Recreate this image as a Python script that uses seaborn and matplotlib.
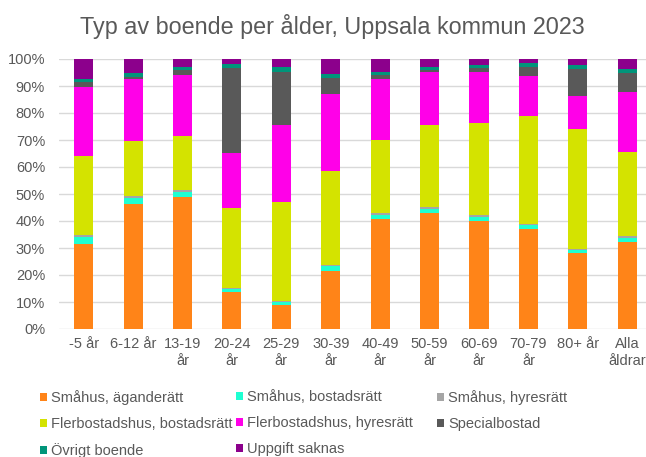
import numpy as np
import pandas as pd
import seaborn as sns
import matplotlib.pyplot as plt

# --- data (andelar i procent) ---
alder = ["-5 år", "6-12 år", "13-19\når", "20-24\når", "25-29\når", "30-39\når",
         "40-49\når", "50-59\når", "60-69\når", "70-79\når", "80+ år", "Alla\nåldrar"]

smahus_agande = [31.4, 46.2, 48.9, 13.8, 8.9, 21.5, 40.6, 42.8, 40.0, 37.0, 28.1, 32.3]
smahus_bostadsratt = [2.7, 2.3, 1.7, 1.0, 1.0, 1.8, 1.7, 1.6, 1.6, 1.5, 1.2, 1.5]
smahus_hyresratt = [0.6, 0.8, 0.9, 0.3, 0.3, 0.4, 0.7, 0.7, 0.6, 0.4, 0.2, 0.6]
fler_bostadsratt = [29.5, 20.3, 20.1, 29.8, 36.7, 34.8, 27.0, 30.3, 34.0, 39.9, 44.4, 31.3]
fler_hyresratt = [25.6, 23.1, 22.4, 20.4, 28.5, 28.7, 22.6, 19.7, 18.9, 15.0, 12.4, 22.2]
specialbostad = [1.8, 0.8, 1.9, 31.2, 19.9, 5.6, 1.5, 0.8, 1.4, 3.4, 9.9, 6.8]
ovrigt = [1.0, 1.2, 1.0, 1.6, 1.6, 1.5, 1.2, 1.3, 1.3, 1.2, 1.7, 1.5]
uppgift_saknas = [7.4, 5.3, 3.1, 1.9, 3.1, 5.7, 4.7, 2.8, 2.2, 1.6, 2.1, 3.8]

serier = ["Småhus, äganderätt", "Småhus, bostadsrätt", "Småhus, hyresrätt",
          "Flerbostadshus, bostadsrätt", "Flerbostadshus, hyresrätt", "Specialbostad",
          "Övrigt boende", "Uppgift saknas"]
farger = ["#FF8418", "#1EFFD2", "#A5A5A5", "#D4E300", "#FF00E8", "#595959",
          "#00957A", "#8C008C"]

varden = [smahus_agande, smahus_bostadsratt, smahus_hyresratt, fler_bostadsratt,
          fler_hyresratt, specialbostad, ovrigt, uppgift_saknas]

# kumulativa summor för staplade staplar
kum = np.cumsum(np.array(varden), axis=0)

sns.set_theme(style="white")
plt.rcParams["font.family"] = ["Liberation Sans", "DejaVu Sans"]

fig = plt.figure(figsize=(6.46, 4.57), dpi=100)
ax = fig.add_axes([59 / 646, 128 / 457, 1 - 59 / 646, 270 / 457])

# rita från toppen och nedåt så att varje lager täcker det ovanför
for i in range(len(serier) - 1, -1, -1):
    df = pd.DataFrame({"alder": alder, "andel": kum[i]})
    sns.barplot(data=df, x="alder", y="andel", color=farger[i], saturation=1,
                width=0.385, linewidth=0, ax=ax, label=serier[i])

ax.set_ylim(0, 100)
ax.set_xlim(-0.5, 11.38)
ax.set_yticks(range(0, 101, 10))
ax.set_yticklabels([f"{v}%" for v in range(0, 101, 10)])
ax.yaxis.grid(True, color="#D9D9D9", linewidth=1)
ax.set_axisbelow(True)
for s in ax.spines.values():
    s.set_visible(False)
ax.set_xlabel("")
ax.set_ylabel("")
ax.tick_params(axis="y", length=0, pad=10, labelsize=10.5, labelcolor="#595959")
ax.tick_params(axis="x", length=0, pad=6, labelsize=10.5, labelcolor="#595959")

fig.text(332 / 646, 1 - 34 / 457, "Typ av boende per ålder, Uppsala kommun 2023",
         ha="center", va="baseline", fontsize=16.8, color="#595959")

# legend: tre kolumner med fast bredd, radvis som i originalet
handles, labels = ax.get_legend_handles_labels()
lookup = dict(zip(labels, handles))
if ax.get_legend() is not None:
    ax.get_legend().remove()

kolumner = [[0, 3, 6], [1, 4, 7], [2, 5]]
kol_x = [40, 236, 437]
for kol, x0 in zip(kolumner, kol_x):
    fig.legend([lookup[serier[k]] for k in kol], [serier[k] for k in kol],
               loc="upper left", bbox_to_anchor=(x0 / 646, 1 - 390 / 457),
               frameon=False, fontsize=10.5, labelcolor="#595959",
               handlelength=0.5, handleheight=0.5, handletextpad=0.27,
               labelspacing=0.83, borderpad=0, borderaxespad=0)

fig.savefig("out.png", dpi=100)
